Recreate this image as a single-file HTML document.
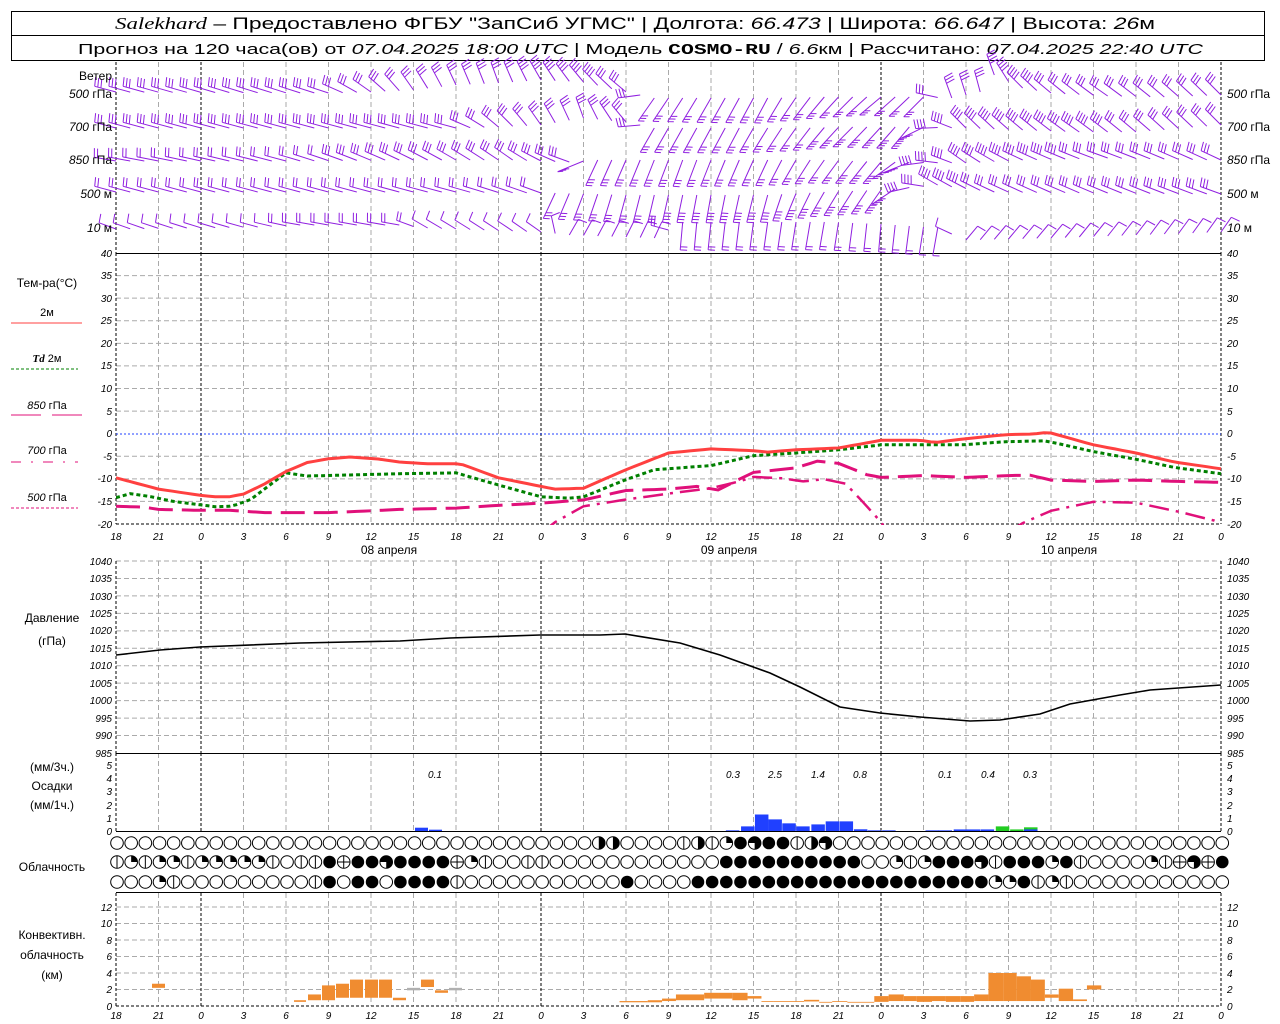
<!DOCTYPE html>
<html><head><meta charset="utf-8"><style>
body{margin:0;background:#fff;}
svg{display:block;font-family:"Liberation Sans",sans-serif;}
.t{font-size:10px;font-style:italic;fill:#000;}
.l{font-size:12px;fill:#000;}
</style></head><body>
<svg id="s" width="1280" height="1024" viewBox="0 0 1280 1024" xmlns="http://www.w3.org/2000/svg">
<rect width="1280" height="1024" fill="#fff"/>
<rect x="11.5" y="11.5" width="1253" height="49" fill="none" stroke="#000"/>
<line x1="11" y1="35.5" x2="1265" y2="35.5" stroke="#000"/>
<text x="115" y="29" font-size="17" textLength="1040" lengthAdjust="spacingAndGlyphs"><tspan font-family="Liberation Serif" font-style="italic">Salekhard</tspan> – Предоставлено ФГБУ "ЗапСиб УГМС" | Долгота: <tspan font-style="italic">66.473</tspan> | Широта: <tspan font-style="italic">66.647</tspan> | Высота: <tspan font-style="italic">26</tspan>м</text>
<text x="78" y="54" font-size="15" textLength="1125" lengthAdjust="spacingAndGlyphs">Прогноз на 120 часа(ов) от <tspan font-style="italic">07.04.2025 18:00 UTC</tspan>  | Модель <tspan font-weight="bold" font-family="Liberation Mono">COSMO-RU</tspan> / <tspan font-style="italic">6.6</tspan>км | Рассчитано: <tspan font-style="italic">07.04.2025 22:40 UTC</tspan></text>
<g id="grid"></g>
<g id="data"></g>
<g class="l" text-anchor="end" font-size="11">
<text x="112" y="80">Ветер</text>
<text x="112" y="98"><tspan font-style="italic">500</tspan> гПа</text>
<text x="112" y="131"><tspan font-style="italic">700</tspan> гПа</text>
<text x="112" y="164"><tspan font-style="italic">850</tspan> гПа</text>
<text x="112" y="198"><tspan font-style="italic">500</tspan> м</text>
<text x="112" y="232"><tspan font-style="italic">10</tspan>   м</text>
</g>
<g class="l" font-size="11">
<text x="1227" y="98"><tspan font-style="italic">500</tspan> гПа</text>
<text x="1227" y="131"><tspan font-style="italic">700</tspan> гПа</text>
<text x="1227" y="164"><tspan font-style="italic">850</tspan> гПа</text>
<text x="1227" y="198"><tspan font-style="italic">500</tspan> м</text>
<text x="1227" y="232"><tspan font-style="italic">10</tspan>   м</text>
</g>
<g class="l" text-anchor="middle">
<text x="47" y="287">Тем-ра(°C)</text>
<text x="47" y="316" font-size="11">2м</text>
<text x="47" y="362" font-size="11"><tspan font-style="italic" font-weight="bold" font-family="Liberation Serif">Td</tspan>  2м</text>
<text x="47" y="409" font-size="11"><tspan font-style="italic">850</tspan> гПа</text>
<text x="47" y="454" font-size="11"><tspan font-style="italic">700</tspan> гПа</text>
<text x="47" y="501" font-size="11"><tspan font-style="italic">500</tspan> гПа</text>
<text x="52" y="622">Давление</text>
<text x="52" y="645">(гПа)</text>
<text x="52" y="771">(мм/3ч.)</text>
<text x="52" y="790">Осадки</text>
<text x="52" y="809">(мм/1ч.)</text>
<text x="52" y="871">Облачность</text>
<text x="52" y="939">Конвективн.</text>
<text x="52" y="959">облачность</text>
<text x="52" y="979">(км)</text>
<text x="389" y="554">08 апреля</text>
<text x="729" y="554">09 апреля</text>
<text x="1069" y="554">10 апреля</text>
</g>
<line x1="11" y1="323" x2="82" y2="323" stroke="#ff4040" stroke-width="1"/>
<line x1="11" y1="369" x2="78" y2="369" stroke="#008000" stroke-dasharray="3,2"/>
<line x1="11" y1="415" x2="41" y2="415" stroke="#e0107a"/><line x1="52" y1="415" x2="82" y2="415" stroke="#e0107a"/>
<line x1="11" y1="462" x2="78" y2="462" stroke="#e0107a" stroke-dasharray="10,10,2,10"/>
<line x1="11" y1="508" x2="78" y2="508" stroke="#e0107a" stroke-dasharray="3,2"/>
<g class="t" font-size="12" text-anchor="middle">
<text x="435" y="778">0.1</text><text x="733" y="778">0.3</text><text x="775" y="778">2.5</text><text x="818" y="778">1.4</text><text x="860" y="778">0.8</text><text x="945" y="778">0.1</text><text x="988" y="778">0.4</text><text x="1030" y="778">0.3</text>
</g>
<g class="t" text-anchor="end">
<text x="112" y="257">40</text><text x="112" y="279">35</text><text x="112" y="302">30</text><text x="112" y="324">25</text><text x="112" y="347">20</text><text x="112" y="369">15</text><text x="112" y="392">10</text><text x="112" y="415">5</text><text x="112" y="437">0</text><text x="112" y="460">-5</text><text x="112" y="482">-10</text><text x="112" y="505">-15</text><text x="112" y="528">-20</text>
<text x="112" y="565">1040</text><text x="112" y="582">1035</text><text x="112" y="600">1030</text><text x="112" y="617">1025</text><text x="112" y="634">1020</text><text x="112" y="652">1015</text><text x="112" y="669">1010</text><text x="112" y="687">1005</text><text x="112" y="704">1000</text><text x="112" y="722">995</text><text x="112" y="739">990</text><text x="112" y="757">985</text>
<text x="112" y="769">5</text><text x="112" y="782">4</text><text x="112" y="795">3</text><text x="112" y="809">2</text><text x="112" y="822">1</text><text x="112" y="835">0</text>
<text x="112" y="911">12</text><text x="112" y="927">10</text><text x="112" y="944">8</text><text x="112" y="960">6</text><text x="112" y="977">4</text><text x="112" y="993">2</text><text x="112" y="1010">0</text>
</g>
<g class="t">
<text x="1227" y="257">40</text><text x="1227" y="279">35</text><text x="1227" y="302">30</text><text x="1227" y="324">25</text><text x="1227" y="347">20</text><text x="1227" y="369">15</text><text x="1227" y="392">10</text><text x="1227" y="415">5</text><text x="1227" y="437">0</text><text x="1227" y="460">-5</text><text x="1227" y="482">-10</text><text x="1227" y="505">-15</text><text x="1227" y="528">-20</text>
<text x="1227" y="565">1040</text><text x="1227" y="582">1035</text><text x="1227" y="600">1030</text><text x="1227" y="617">1025</text><text x="1227" y="634">1020</text><text x="1227" y="652">1015</text><text x="1227" y="669">1010</text><text x="1227" y="687">1005</text><text x="1227" y="704">1000</text><text x="1227" y="722">995</text><text x="1227" y="739">990</text><text x="1227" y="757">985</text>
<text x="1227" y="769">5</text><text x="1227" y="782">4</text><text x="1227" y="795">3</text><text x="1227" y="809">2</text><text x="1227" y="822">1</text><text x="1227" y="835">0</text>
<text x="1227" y="911">12</text><text x="1227" y="927">10</text><text x="1227" y="944">8</text><text x="1227" y="960">6</text><text x="1227" y="977">4</text><text x="1227" y="993">2</text><text x="1227" y="1010">0</text>
</g>
<g class="t" font-size="13" text-anchor="middle">
<text x="116" y="540">18</text><text x="158.5" y="540">21</text><text x="201" y="540">0</text><text x="243.5" y="540">3</text><text x="286" y="540">6</text><text x="328.5" y="540">9</text><text x="371" y="540">12</text><text x="413.5" y="540">15</text><text x="456" y="540">18</text><text x="498.5" y="540">21</text><text x="541" y="540">0</text><text x="583.5" y="540">3</text><text x="626" y="540">6</text><text x="668.5" y="540">9</text><text x="711" y="540">12</text><text x="753.5" y="540">15</text><text x="796" y="540">18</text><text x="838.5" y="540">21</text><text x="881" y="540">0</text><text x="923.5" y="540">3</text><text x="966" y="540">6</text><text x="1008.5" y="540">9</text><text x="1051" y="540">12</text><text x="1093.5" y="540">15</text><text x="1136" y="540">18</text><text x="1178.5" y="540">21</text><text x="1221" y="540">0</text>
<text x="116" y="1019">18</text><text x="158.5" y="1019">21</text><text x="201" y="1019">0</text><text x="243.5" y="1019">3</text><text x="286" y="1019">6</text><text x="328.5" y="1019">9</text><text x="371" y="1019">12</text><text x="413.5" y="1019">15</text><text x="456" y="1019">18</text><text x="498.5" y="1019">21</text><text x="541" y="1019">0</text><text x="583.5" y="1019">3</text><text x="626" y="1019">6</text><text x="668.5" y="1019">9</text><text x="711" y="1019">12</text><text x="753.5" y="1019">15</text><text x="796" y="1019">18</text><text x="838.5" y="1019">21</text><text x="881" y="1019">0</text><text x="923.5" y="1019">3</text><text x="966" y="1019">6</text><text x="1008.5" y="1019">9</text><text x="1051" y="1019">12</text><text x="1093.5" y="1019">15</text><text x="1136" y="1019">18</text><text x="1178.5" y="1019">21</text><text x="1221" y="1019">0</text>
</g>
</svg>
<script>
(function(){
var NS="http://www.w3.org/2000/svg";
var G=document.getElementById("grid"),D=document.getElementById("data");
function el(p,tag,a){var e=document.createElementNS(NS,tag);for(var k in a)e.setAttribute(k,a[k]);p.appendChild(e);return e;}
function X(h){return 116+h*14.1667;}
var panels=[[62,253],[253,524],[561,753],[753,831],[893,1006]];
function hl(y,st,da,w){el(G,"line",{x1:116,x2:1221,y1:y,y2:y,stroke:st,"stroke-dasharray":da||"none","stroke-width":w||1});}
for(var T=35;T>=-15;T-=5){if(T!==0)hl(253+(40-T)*4.517,"#aaa","5,3");}
for(var P=1040;P>=990;P-=5)hl(561+(1040-P)*3.491,"#aaa","5,3");
for(var k=12;k>=2;k-=2)hl(1006-k*8.25,"#aaa","5,3");
for(var k2=0;k2<=26;k2++){
 var x=116+k2*42.5,mid=(k2%8===2)||k2===0||k2===26;
 panels.forEach(function(p){el(G,"line",{x1:x,x2:x,y1:p[0],y2:p[1],stroke:mid?"#000":"#aaa","stroke-dasharray":mid?"3,2":"5,3"});});
}
hl(253.5,"#000");hl(524,"#000","3,2");hl(434,"#2040ff","2,2");
hl(753.5,"#000");hl(831.5,"#000");hl(892.5,"#000");hl(1006,"#000","3,2");
function interp(pts,h){if(h<=pts[0][0])return pts[0].slice(1);for(var i=1;i<pts.length;i++){if(h<=pts[i][0]){var a=pts[i-1],b=pts[i],t=(h-a[0])/(b[0]-a[0]);var r=[];for(var j=1;j<a.length;j++)r.push(a[j]+(b[j]-a[j])*t);return r;}}return pts[pts.length-1].slice(1);}
function curve(pts,ymap,attr,h0,h1){var s="";for(var h=h0;h<=h1+1e-6;h+=0.5){var v=interp(pts,h)[0];s+=(s?" L":"M")+X(h).toFixed(1)+","+ymap(v).toFixed(1);}attr.d=s;attr.fill="none";return el(D,"path",attr);}
var cp=el(D,"clipPath",{id:"tc"});el(cp,"rect",{x:116,y:253,width:1106,height:272});
var TY=function(t){return 434-t*4.517;};
var red=[[0,-9.7],[3,-12.2],[6,-13.6],[7,-13.9],[8,-13.9],[9,-13.3],[10.4,-11.2],[12,-8.3],[13.5,-6.3],[15,-5.5],[16.5,-5.1],[18.4,-5.5],[20,-6.2],[22,-6.6],[24.3,-6.6],[27,-9.7],[30,-11.6],[31,-12.2],[33,-12],[36,-7.9],[39,-4.2],[42,-3.3],[45,-3.7],[46,-4],[48,-3.5],[51,-3.1],[54,-1.4],[56.8,-1.4],[57.8,-1.9],[59.8,-1.1],[62.8,-0.15],[64.8,0],[65.8,0.4],[69,-2.4],[72,-4.2],[74.7,-6.2],[78,-7.7]];
var grn=[[0,-14.1],[1,-13.2],[2.5,-13.9],[4,-14.9],[6,-15.7],[7,-16.1],[8.2,-16],[9.5,-14.5],[12,-8.6],[13.5,-9.3],[20,-8.8],[24,-8.6],[27,-11.3],[30,-13.9],[32,-14.2],[33,-13.9],[36,-10.1],[38,-7.9],[42,-7],[45,-4.8],[48,-4.2],[51,-3.5],[54,-2.4],[59.8,-2.4],[62.8,-1.7],[65.6,-1.5],[69,-3.9],[72,-5.6],[74.7,-7.4],[78,-8.8]];
var p850=[[0,-16],[2,-16.2],[3,-16.7],[6,-16.9],[8,-16.9],[10.5,-17.4],[15,-17.4],[18,-17],[20,-16.7],[24,-16.4],[27,-15.8],[30,-15.3],[33,-14.6],[36,-12.5],[39,-12.2],[41,-11.6],[42.5,-12.4],[44,-10],[45,-8.5],[48,-7.5],[49.5,-6],[51,-6.5],[53,-9],[54,-9.6],[57,-9.2],[60,-9.6],[63,-9.2],[64.5,-9.1],[66,-10.2],[69,-10.5],[72,-10.2],[75,-10.5],[78,-10.7]];
var p700a=[[30,-22],[31,-19.5],[33,-16],[36,-14.5],[39,-13.2],[42,-12],[44,-10.5],[45,-9.5],[47,-9.8],[48.5,-10.5],[50,-10],[51.5,-11],[53,-16],[54,-19.5],[54.5,-22]];
var p700b=[[63,-22],[63.8,-20],[66,-17],[69,-15],[72,-15.2],[75,-17.2],[77.7,-19.3],[78,-19.8]];
var g=el(D,"g",{"clip-path":"url(#tc)"});
function cv(pts,attr,h0,h1){var p=curve(pts,TY,attr,h0,h1);g.appendChild(p);}
cv(p850,{stroke:"#e0107a","stroke-width":3,"stroke-dasharray":"24,9"},0,78);
cv(p700a,{stroke:"#e0107a","stroke-width":2.5,"stroke-dasharray":"20,7,3,7"},30,54.5);
cv(p700b,{stroke:"#e0107a","stroke-width":2.5,"stroke-dasharray":"20,7,3,7"},63,78);
cv(grn,{stroke:"#008000","stroke-width":3,"stroke-dasharray":"4,3"},0,78);
cv(red,{stroke:"#ff4040","stroke-width":3},0,78);
var pr=[[116,655],[160,650],[200,647],[300,643],[400,641],[450,638],[540,635],[600,635],[625,634],[680,643],[720,655],[770,673],[800,687],[840,707],[880,713],[920,717],[970,721],[1000,720],[1040,714],[1070,704],[1120,695],[1150,690],[1221,685]];
var s="";pr.forEach(function(p,i){s+=(i?" L":"M")+p[0]+","+p[1];});
el(D,"path",{d:s,fill:"none",stroke:"#000","stroke-width":1.6});
function pb(x0,x1,v,c,b){var y1=831-v*13.2,y0=831-(b||0)*13.2;el(D,"rect",{x:x0,y:y1,width:x1-x0,height:y0-y1,fill:c});}
pb(415,428,0.25,"#2040ff");pb(429,442,0.1,"#2040ff");
var bl=[[290,0.05],[325,0.35],[357,1.25],[388,0.88],[420,0.58],[452,0.35],[487,0.5],[520,0.73],[552,0.73],[585,0.13],[617,0.05],[650,0.05],[750,0.05],[780,0.05],[815,0.12],[845,0.12],[877,0.12]];
bl.forEach(function(b){var x=600+b[0]*0.434;pb(x,x+13.5,b[1],"#2040ff");});
[[912,0.35],[945,0.12],[977,0.28]].forEach(function(b){var x=600+b[0]*0.434;pb(x,x+13.5,b[1],"#22cc22");});
pb(600+977*0.434,600+977*0.434+13.5,0.12,"#2040ff");
function cb(x0,x1,a,b,c){var y1=1006-b*8.25,y0=1006-a*8.25;el(D,"rect",{x:x0,y:y1,width:x1-x0-1,height:y0-y1,fill:c||"#f08c30"});}
cb(152,166,2.2,2.7);cb(294,307,0.5,0.7);cb(308,322,0.7,1.4);cb(322,336,0.7,2.5);cb(336,350,1.0,2.7);cb(350,364,1.0,3.2);cb(365,379,1.0,3.2);cb(379,393,1.0,3.2);cb(393,407,0.7,1.0);cb(407,421,1.9,2.2,"#b0b0b0");cb(421,435,2.3,3.2);cb(435,449,1.6,1.9);cb(449,463,1.9,2.2,"#b0b0b0");
var cz=[[45,110,.45,.6],[110,143,.45,.7],[143,175,.6,.9],[175,240,.7,1.4],[240,273,.9,1.6],[273,305,.9,1.6],[305,340,.7,1.6],[340,372,.9,1.2],[372,400,.5,.6],[400,470,.5,.6],[470,505,.55,.75],[505,535,.4,.5],[535,570,.5,.6],[570,632,.4,.5],[632,665,.5,1.2],[665,700,.6,1.4],[700,730,.6,1.2],[730,765,.5,1.2],[765,797,.6,1.2],[797,830,.5,1.2],[830,862,.5,1.2],[862,895,.6,1.4],[895,930,.6,4.0],[930,960,.6,4.0],[960,993,.6,3.6],[993,1025,.6,3.2],[1025,1057,1.0,1.4],[1057,1090,.6,2.1],[1090,1122,.6,.8],[1122,1155,2.0,2.5]];
cz.forEach(function(c){cb(600+c[0]*0.434,600+c[1]*0.434+1,c[2],c[3]);});
var rows=[
"eeeeeeeeeeeeeeeeeeeeeeeeeeeeeeeeeehjeeeevhvqf3ffvh3eeeeeeeeeeeeeeeeeeeeeeeeeeeee",
"vqvqqvqqqqqvevvftff3fffftqveevveeeeeeeeeeeeffffffffffeeqvqfff3vfffqfveeeeqvt3tf",
"eeeqveeeeeeeeevfeffeffffveeeeeeeeeeefeeeefffffffffffffffffffffqqfvqveeeeeeeeeee"];
var ry=[843,862,882],R=6.3;
rows.forEach(function(str,ri){for(var i=0;i<79;i++){var c=str.charAt(i)||"e";var cx=117+i*14.17,cy=ry[ri];
 if(c==="f"){el(D,"circle",{cx:cx,cy:cy,r:R,fill:"#000"});continue;}
 el(D,"circle",{cx:cx,cy:cy,r:R,fill:"#fff",stroke:"#000","stroke-width":1});
 if(c==="v"||c==="t")el(D,"line",{x1:cx,x2:cx,y1:cy-R,y2:cy+R,stroke:"#000"});
 if(c==="t")el(D,"line",{x1:cx-R,x2:cx+R,y1:cy,y2:cy,stroke:"#000"});
 if(c==="q")el(D,"path",{d:"M"+cx+","+cy+" L"+cx+","+(cy-R)+" A"+R+","+R+" 0 0 1 "+(cx+R)+","+cy+" Z",fill:"#000"});
 if(c==="h"||c==="j")el(D,"path",{d:"M"+cx+","+(cy-R)+" A"+R+","+R+" 0 0 1 "+cx+","+(cy+R)+" Z",fill:"#000"});
 if(c==="3")el(D,"path",{d:"M"+cx+","+cy+" L"+(cx-R)+","+cy+" A"+R+","+R+" 0 1 1 "+cx+","+(cy+R)+" Z",fill:"#000"});
}});
var lv=[
[[0,92,195,3],[15,93,198,3],[18,92,215,3],[21,90,235,3],[24,85,245,3],[27,83,250,3],[30,80,240,4],[33,82,230,4],[36,92,220,3],[38,98,125,3],[42,98,120,3],[46,98,118,3],[50,97,130,3],[54,97,140,3],[57,97,135,3],[59,98,250,3],[61,92,255,3],[62,75,250,4],[64,88,225,4],[66,93,220,3],[70,96,215,3],[74,97,220,3],[78,95,225,3]],
[[0,128,195,3],[24,128,195,3],[27,127,220,3],[30,125,235,3],[33,118,250,3],[36,122,230,3],[38,128,120,3],[44,128,118,3],[48,128,125,3],[52,127,135,4],[56,127,130,4],[60,128,225,4],[64,130,220,4],[68,132,215,4],[72,132,220,3],[78,125,225,3]],
[[0,161,190,2],[12,161,195,2],[20,160,205,3],[28,160,215,3],[32,162,200,3],[34,160,115,3],[40,160,110,3],[46,160,115,3],[50,160,125,3],[54,162,130,4],[60,163,215,4],[64,160,205,4],[70,158,200,3],[78,160,205,3]],
[[0,192,195,2],[24,192,195,2],[30,193,200,2],[31,193,115,3],[36,195,105,3],[42,195,100,4],[46,195,105,4],[50,192,120,4],[54,190,125,4],[58,185,210,4],[62,192,205,3],[78,194,200,3]],
[[0,229,200,1],[10,227,195,1],[13,225,190,2],[20,225,190,2],[22,228,210,1],[30,232,215,1],[32,235,300,1],[38,238,295,1],[40,222,95,2],[50,222,100,2],[54,224,95,2],[58,228,100,1],[60,240,310,1],[66,238,310,1],[78,232,305,1]]];
var wg=el(D,"g",{stroke:"#9020e0","stroke-width":1,fill:"none"});
lv.forEach(function(pts,li){for(var h=0;h<=78;h++){var v=interp(pts,h),x=X(h),y=v[0],thd=v[1],th=thd*Math.PI/180,n=Math.round(v[2]);
 var down=(thd>85&&thd<160);
 var L=down?28:(li===4?18:22),BL=down?7:9,ux=Math.cos(th),uy=Math.sin(th),tx=x+L*ux,ty=y+L*uy,px=-uy,py=ux;
 if(down){px=1;py=-0.15;}
 var d="M"+x.toFixed(1)+","+y.toFixed(1)+" L"+tx.toFixed(1)+","+ty.toFixed(1);
 for(var k=0;k<n;k++){var bx=tx-ux*3.2*k,by=ty-uy*3.2*k;d+=" M"+bx.toFixed(1)+","+by.toFixed(1)+" L"+(bx+px*BL+ux*1.5).toFixed(1)+","+(by+py*BL+uy*1.5).toFixed(1);}
 el(wg,"path",{d:d});
}});
})();
</script>
</body></html>
